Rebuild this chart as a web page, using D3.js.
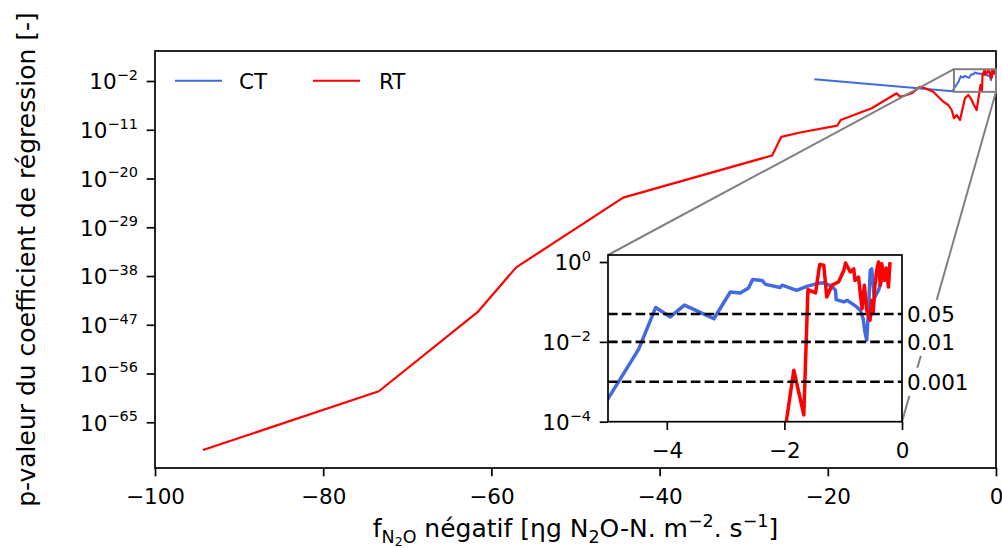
<!DOCTYPE html>
<html>
<head>
<meta charset="utf-8">
<script src="https://cdn.jsdelivr.net/npm/d3@7"></script>
<style>
  html, body { margin: 0; padding: 0; background: #fff; }
  svg { display: block; font-family: "DejaVu Sans", sans-serif; }
</style>
</head>
<body>
<svg id="chart" width="1002" height="548"></svg>
<script>
// ---------------- data ----------------
// CT series: x (f_N2O négatif) and log10 of p-value
const ctX = [-21.6, -5.2, -4.48, -4.19, -3.94, -3.70, -3.20, -2.92, -2.75, -2.61, -2.54, -2.38, -2.32,
  -2.07, -2.04, -1.79, -1.62, -1.45, -1.33, -1.19, -1.13, -1.12, -0.99, -0.93, -0.77, -0.71, -0.66,
  -0.63, -0.60, -0.57, -0.54, -0.515, -0.47, -0.40, -0.345];
const ctLogP = [-1.69, -3.9, -2.19, -1.14, -1.375, -1.08, -1.42, -0.75, -0.775, -0.65, -0.44, -0.46, -0.56,
  -0.64, -0.58, -0.71, -0.61, -0.54, -0.52, -0.61, -0.71, -0.94, -1.0, -0.96, -1.125, -1.21, -1.42,
  -1.75, -1.96, -1.2, -0.21, -0.17, -0.9, -0.71, -0.46];

// RT series
const rtX = [-94.3, -73.38, -61.65, -57.05, -44.33, -26.62, -25.53, -23.3, -18.87, -18.47, -14.78,
  -11.81, -11.42, -10.62, -10.02, -9.04, -8.44, -7.46, -6.86, -6.27, -5.67, -5.27, -5.0, -4.67, -4.28,
  -3.96, -3.69, -3.29, -2.89, -2.62, -2.3, -1.84, -1.67, -1.60, -1.47, -1.40, -1.33, -1.28, -1.19,
  -1.08, -0.99, -0.96, -0.88, -0.82, -0.80, -0.74, -0.68, -0.64, -0.60, -0.544, -0.515, -0.49, -0.46,
  -0.43, -0.40, -0.37, -0.345, -0.30, -0.27, -0.23, -0.204];
const rtLogP = [-70.13, -59.27, -44.68, -36.4, -23.52, -15.74, -12.31, -11.5, -10.25, -9.2, -7.04,
  -4.27, -4.9, -4.58, -4.27, -3.05, -3.35, -3.98, -4.9, -5.82, -6.43, -7.35, -8.89, -8.28, -9.2,
  -7.04, -5.19, -4.58, -5.5, -6.43, -7.35, -2.71, -3.83, -0.69, -0.775, -0.06, -0.08, -0.875, -0.58,
  -0.5, -0.21, -0.025, -0.25, -0.17, -0.46, -0.375, -1.17, -0.58, -1.2, -1.46, -0.96, -1.29, -0.58,
  -0.21, 0.0, -0.58, -0.04, -0.46, -0.15, -0.625, 0.0];

const seriesNames = ["CT", "RT"];
const seriesColors = ["#4169e1", "#ff0000"];

const xTicks = [-100, -80, -60, -40, -20, 0];
const yTickExps = [-2, -11, -20, -29, -38, -47, -56, -65];
const insetXTicks = [-4, -2, 0];
const insetYTickExps = [0, -2, -4];
const thresholds = [0.05, 0.01, 0.001];
const thresholdLabels = ["0.05", "0.01", "0.001"];

// ---------------- layout ----------------
const svg = d3.select("#chart");
const FONT = 21.5, SUP = 14.5, LABEL = 25;
const M = {l: 155, r: 996, t: 51, b: 468};
const I = {l: 608, r: 902, t: 255, b: 421.7};
const minus = s => String(s).replace("-", "\u2212");

const x = d3.scaleLinear().domain([-100, 0]).range([M.l, M.r]);
const y = d3.scaleLog().domain([Math.pow(10, -73.44), Math.pow(10, 3.54)]).range([M.b, M.t]);
const xi = d3.scaleLinear().domain([-5, 0]).range([I.l, I.r]);
const yi = d3.scaleLog().domain([1e-4, 1.5]).range([I.b, I.t]);

const ct = ctX.map((v, i) => [v, Math.pow(10, ctLogP[i])]);
const rt = rtX.map((v, i) => [v, Math.pow(10, rtLogP[i])]);

const defs = svg.append("defs");
defs.append("clipPath").attr("id", "clipMain").append("rect")
  .attr("x", M.l).attr("y", M.t).attr("width", M.r - M.l).attr("height", M.b - M.t);
defs.append("clipPath").attr("id", "clipIn").append("rect")
  .attr("x", I.l).attr("y", I.t).attr("width", I.r - I.l).attr("height", I.b - I.t);

function powLabel(textSel, exp) {
  textSel.text(null);
  textSel.append("tspan").text("10");
  textSel.append("tspan").attr("font-size", SUP).attr("dy", -9.5).text(minus(exp));
}

// ---------------- main axes ----------------
const lineMain = d3.line().x(d => x(d[0])).y(d => y(d[1]));
const gMain = svg.append("g").attr("clip-path", "url(#clipMain)");
gMain.append("path").datum(ct).attr("d", lineMain).attr("fill", "none")
  .attr("stroke", seriesColors[0]).attr("stroke-width", 2);
gMain.append("path").datum(rt).attr("d", lineMain).attr("fill", "none")
  .attr("stroke", seriesColors[1]).attr("stroke-width", 2.2).attr("stroke-linejoin", "round");

// x axis
const gx = svg.append("g").attr("transform", `translate(0,${M.b})`)
  .call(d3.axisBottom(x).tickValues(xTicks).tickSize(8.3).tickPadding(8).tickFormat(d => minus(d)));
gx.select(".domain").remove();
gx.selectAll(".tick line").attr("stroke", "#000").attr("stroke-width", 1.7);
gx.selectAll(".tick text").attr("font-size", FONT).attr("font-family", "DejaVu Sans")
  .attr("fill", "#000").attr("y", 36).attr("dy", 0);

// y axis
const gy = svg.append("g").attr("transform", `translate(${M.l},0)`)
  .call(d3.axisLeft(y).tickValues(yTickExps.map(e => Math.pow(10, e))).tickSize(8.3).tickPadding(8));
gy.select(".domain").remove();
gy.selectAll(".tick line").attr("stroke", "#000").attr("stroke-width", 1.7);
gy.selectAll(".tick text").each(function(d, i) {
  const t = d3.select(this);
  t.attr("font-size", FONT).attr("font-family", "DejaVu Sans").attr("fill", "#000")
   .attr("x", -17).attr("dy", 0).attr("y", 7.8);
  powLabel(t, yTickExps[i]);
});

// frame
svg.append("rect").attr("x", M.l).attr("y", M.t).attr("width", M.r - M.l).attr("height", M.b - M.t)
  .attr("fill", "none").attr("stroke", "#000").attr("stroke-width", 1.7);

// legend
const legY = 80.7;
const legItems = [{x0: 175, tx: 239}, {x0: 313, tx: 379}];
legItems.forEach((it, i) => {
  svg.append("line").attr("x1", it.x0).attr("x2", it.x0 + 47).attr("y1", legY).attr("y2", legY)
    .attr("stroke", seriesColors[i]).attr("stroke-width", 2);
  svg.append("text").attr("x", it.tx).attr("y", legY + 7.8).attr("font-size", FONT).text(seriesNames[i]);
});

// axis labels
const xl = svg.append("text").attr("x", (M.l + M.r) / 2).attr("y", 537)
  .attr("text-anchor", "middle").attr("font-size", LABEL);
xl.append("tspan").text("f");
xl.append("tspan").attr("font-size", 17.5).attr("dy", 6).text("N");
xl.append("tspan").attr("font-size", 12.5).attr("dy", 3).text("2");
xl.append("tspan").attr("font-size", 17.5).attr("dy", -3).text("O");
xl.append("tspan").attr("dy", -6).text(" négatif [ηg N");
xl.append("tspan").attr("font-size", 17.5).attr("dy", 6).text("2");
xl.append("tspan").attr("dy", -6).text("O-N. m");
xl.append("tspan").attr("font-size", 17.5).attr("dy", -10).text("\u22122");
xl.append("tspan").attr("dy", 10).text(". s");
xl.append("tspan").attr("font-size", 17.5).attr("dy", -10).text("\u22121");
xl.append("tspan").attr("dy", 10).text("]");

svg.append("text").attr("transform", `translate(35,${(M.t + M.b) / 2}) rotate(-90)`)
  .attr("text-anchor", "middle").attr("font-size", LABEL)
  .text("p-valeur du coefficient de régression [-]");

// ---------------- zoom indicator ----------------
const gray = "#808080";
svg.append("rect").attr("x", x(-5)).attr("y", y(1.5)).attr("width", x(0) - x(-5))
  .attr("height", y(1e-4) - y(1.5)).attr("fill", "none").attr("stroke", gray).attr("stroke-width", 2);
svg.append("line").attr("x1", x(-5)).attr("y1", y(1.5)).attr("x2", I.l).attr("y2", I.t)
  .attr("stroke", gray).attr("stroke-width", 2);
svg.append("line").attr("x1", x(0)).attr("y1", y(1e-4)).attr("x2", I.r).attr("y2", I.b)
  .attr("stroke", gray).attr("stroke-width", 2);

// ---------------- inset ----------------
svg.append("rect").attr("x", I.l).attr("y", I.t).attr("width", I.r - I.l).attr("height", I.b - I.t)
  .attr("fill", "#fff");
const lineIn = d3.line().x(d => xi(d[0])).y(d => yi(d[1]));
const gIn = svg.append("g").attr("clip-path", "url(#clipIn)");
gIn.append("path").datum(ct).attr("d", lineIn).attr("fill", "none")
  .attr("stroke", seriesColors[0]).attr("stroke-width", 3.5).attr("stroke-linejoin", "round");
gIn.append("path").datum(rt).attr("d", lineIn).attr("fill", "none")
  .attr("stroke", seriesColors[1]).attr("stroke-width", 3.5).attr("stroke-linejoin", "round");
thresholds.forEach(t => {
  gIn.append("line").attr("x1", I.l).attr("x2", I.r).attr("y1", yi(t)).attr("y2", yi(t))
    .attr("stroke", "#000").attr("stroke-width", 2.6).attr("stroke-dasharray", "9.6,4.2");
});

const gxi = svg.append("g").attr("transform", `translate(0,${I.b})`)
  .call(d3.axisBottom(xi).tickValues(insetXTicks).tickSize(8.3).tickPadding(8).tickFormat(d => minus(d)));
gxi.select(".domain").remove();
gxi.selectAll(".tick line").attr("stroke", "#000").attr("stroke-width", 1.7);
gxi.selectAll(".tick text").attr("font-size", FONT).attr("font-family", "DejaVu Sans")
  .attr("fill", "#000").attr("y", 36).attr("dy", 0);

const gyi = svg.append("g").attr("transform", `translate(${I.l},0)`)
  .call(d3.axisLeft(yi).tickValues(insetYTickExps.map(e => Math.pow(10, e))).tickSize(8.3).tickPadding(8));
gyi.select(".domain").remove();
gyi.selectAll(".tick line").attr("stroke", "#000").attr("stroke-width", 1.7);
gyi.selectAll(".tick text").each(function(d, i) {
  const t = d3.select(this);
  t.attr("font-size", FONT).attr("font-family", "DejaVu Sans").attr("fill", "#000")
   .attr("x", -17).attr("dy", 0).attr("y", 7.8);
  powLabel(t, insetYTickExps[i]);
});

svg.append("rect").attr("x", I.l).attr("y", I.t).attr("width", I.r - I.l).attr("height", I.b - I.t)
  .attr("fill", "none").attr("stroke", "#000").attr("stroke-width", 1.7);

// threshold labels with white boxes
thresholds.forEach((t, i) => {
  const g = svg.append("g");
  const txt = g.append("text").attr("x", I.l + (I.r - I.l) + 5).attr("y", yi(t) + 7.8)
    .attr("font-size", FONT).text(thresholdLabels[i]);
  const bb = txt.node().getBBox();
  g.insert("rect", "text").attr("x", bb.x - 2).attr("y", yi(t) - 12.5 - 1.5)
    .attr("width", bb.width + 4).attr("height", 28).attr("fill", "#fff");
});
</script>
</body>
</html>
